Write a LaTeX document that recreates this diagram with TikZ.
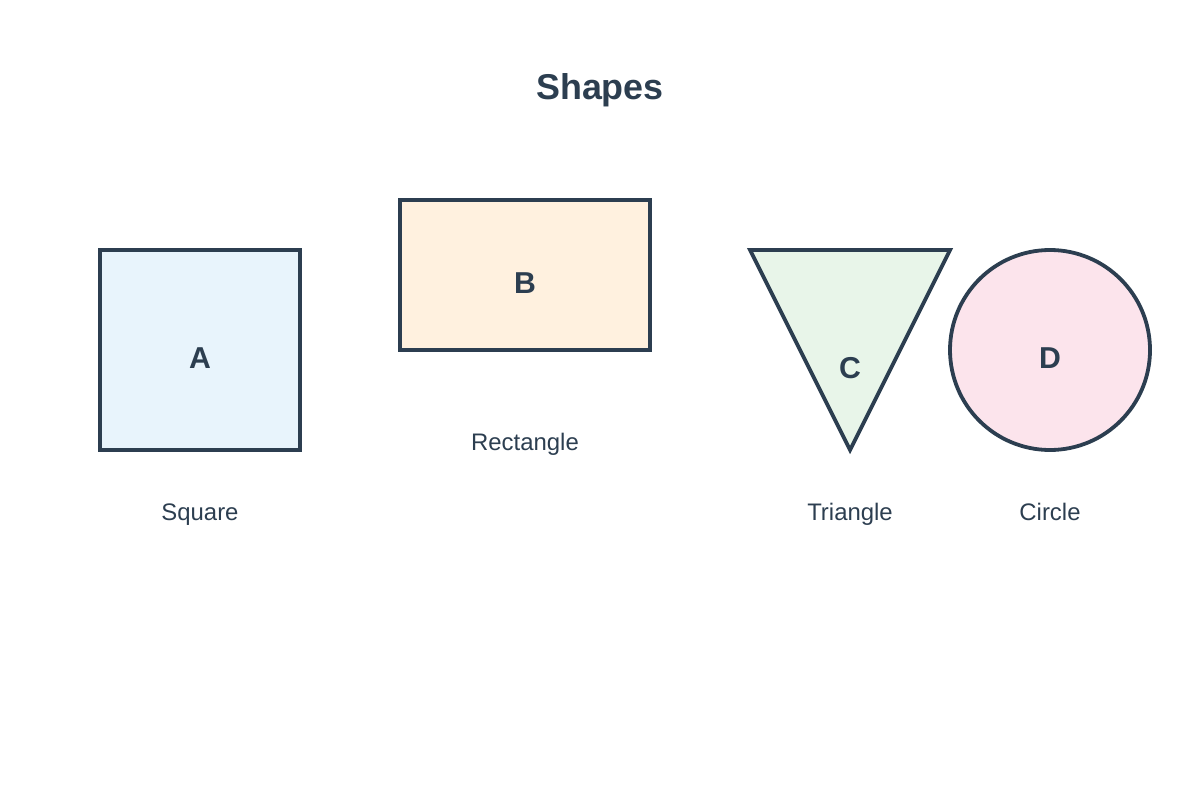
\documentclass[tikz,border=0pt]{standalone}
\usepackage{fontspec}
\setmainfont{Liberation Sans}
\usetikzlibrary{positioning}
\definecolor{ink}{HTML}{2C3E50}
\definecolor{sqfill}{HTML}{E8F4FC}
\definecolor{rcfill}{HTML}{FFF1DF}
\definecolor{trfill}{HTML}{E8F5E9}
\definecolor{cifill}{HTML}{FCE4EC}
\tikzset{shp/.append style={draw=ink, line width=2.7pt, line join=miter},
  letter/.append style={anchor=base, text=ink, font=\fontsize{21.5}{24}\selectfont\bfseries, inner sep=0pt},
  shapename/.append style={anchor=base, text=ink, font=\fontsize{17}{20}\selectfont, inner sep=0pt}}

\begin{document}
\begin{tikzpicture}[x=0.025cm, y=-0.025cm]
                \useasboundingbox (0,0) rectangle (1200,800);
                % title
                \node[anchor=base, text=ink, font=\fontsize{25.5}{28}\selectfont\bfseries, inner sep=0pt] (title) at (600,100) {Shapes};
                % shapes
                \draw[shp, fill=sqfill] (100,250) rectangle (300,450);
                \draw[shp, fill=rcfill] (400,200) rectangle (650,350);
                \draw[shp, fill=trfill] (750,250) -- (950,250) -- (850,450) -- cycle;
                \draw[shp, fill=cifill] (1050,350) circle (100);
                % letters
                \node[letter] (a) at (200,368) {A};
                \node[letter] (b) at (525,293) {B};
                \node[letter] (c) at (850,378) {C};
                \node[letter] (d) at (1050,368) {D};
                % names
                \node[shapename] (sq) at (200,520) {Square};
                \node[shapename] (rc) at (525,450) {Rectangle};
                \node[shapename] (tr) at (850,520) {Triangle};
                \node[shapename] (ci) at (1050,520) {Circle};
            \end{tikzpicture}
\end{document}
